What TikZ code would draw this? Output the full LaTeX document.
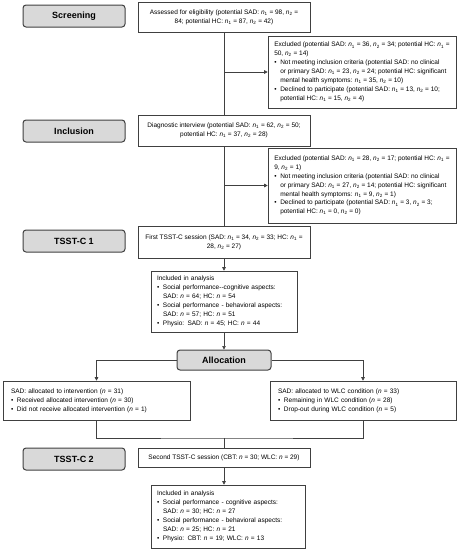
\documentclass[tikz,border=0pt]{standalone}
\usepackage{fontspec}
\setmainfont{Liberation Sans}
\usetikzlibrary{arrows.meta,positioning,calc}
\definecolor{labelgray}{gray}{0.85}
\definecolor{edgegray}{gray}{0.25}
\newcommand{\nsub}[1]{\textit{n}\textsubscript{#1}}
\newcommand{\nit}{\textit{n}}
\newcommand{\bul}{\makebox[6pt][l]{\textbullet}}
\newcommand{\ind}{\hspace*{6pt}}
\tikzstyle{stage} = [draw=edgegray, line width=1pt, fill=labelgray, rounded corners=3pt, minimum width=102pt, minimum height=22pt, inner sep=0pt, font=\fontsize{9}{10}\selectfont\bfseries]
\tikzstyle{info} = [draw=edgegray, line width=0.6pt, inner xsep=5pt, inner ysep=2pt, align=left, font=\fontsize{6.5}{8.9}\selectfont]
\tikzstyle{list} = [info, inner xsep=6pt]
\tikzstyle{line} = [draw=edgegray, line width=0.6pt]
\tikzstyle{arrow} = [line, -{Triangle[length=3.5pt,width=3.5pt]}]

\begin{document}
\begin{tikzpicture}[x=1pt,y=-1pt]
\useasboundingbox (0,0) rectangle (461,550);
% stage labels
\node (screen) [stage] at (74,16) {Screening};
\node (incl) [stage] at (74,131) {Inclusion};
\node (tsst1) [stage] at (74,241) {TSST-C 1};
\node (tsst2) [stage] at (74,459) {TSST-C 2};
% screening
\node (assess) [info, align=center, minimum width=172pt, minimum height=30pt] at (224,17)
  {Assessed for eligibility (potential SAD: \nsub1 = 98, \nsub2 =\\ 84; potential HC: \nsub1 = 87, \nsub2 = 42)};
\node (excl1) [info, minimum width=188pt, minimum height=72pt] at (362,72)
  {Excluded (potential SAD: \nsub1 = 36, \nsub2 = 34; potential HC: \nsub1 =\\
   50, \nsub2 = 14)\\
   \bul Not meeting inclusion criteria (potential SAD: no clinical\\
   \ind or primary SAD: \nsub1 = 23, \nsub2 = 24; potential HC: significant\\
   \ind mental health symptoms: \nsub1 = 35, \nsub2 = 10)\\
   \bul Declined to participate (potential SAD: \nsub1 = 13, \nsub2 = 10;\\
   \ind potential HC: \nsub1 = 15, \nsub2 = 4)};
% inclusion
\node (diag) [info, align=center, minimum width=172pt, minimum height=31pt] at (224,130.5)
  {Diagnostic interview (potential SAD: \nsub1 = 62, \nsub2 = 50;\\ potential HC: \nsub1 = 37, \nsub2 = 28)};
\node (excl2) [info, minimum width=188pt, minimum height=75pt] at (362,185.5)
  {Excluded (potential SAD: \nsub1 = 28, \nsub2 = 17; potential HC: \nsub1 =\\
   9, \nsub2 = 1)\\
   \bul Not meeting inclusion criteria (potential SAD: no clinical\\
   \ind or primary SAD: \nsub1 = 27, \nsub2 = 14; potential HC: significant\\
   \ind mental health symptoms: \nsub1 = 9, \nsub2 = 1)\\
   \bul Declined to participate (potential SAD: \nsub1 = 3, \nsub2 = 3;\\
   \ind potential HC: \nsub1 = 0, \nsub2 = 0)};
% first session
\node (first) [info, align=center, minimum width=172pt, minimum height=32pt] at (224,242)
  {First TSST-C session (SAD: \nsub1 = 34, \nsub2 = 33; HC: \nsub1 =\\ 28, \nsub2 = 27)};
\node (anal1) [list, text width=134pt, minimum height=61pt] at (224,301.5)
  {Included in analysis\\
   \bul Social performance-{}-cognitive aspects:\\
   \ind SAD: \nit{} = 64; HC: \nit{} = 54\\
   \bul Social performance - behavioral aspects:\\
   \ind SAD: \nit{} = 57; HC: \nit{} = 51\\
   \bul Physio: SAD: \nit{} = 45; HC: \nit{} = 44};
% allocation
\node (alloc) [stage, minimum width=94pt, minimum height=20pt] at (224,360) {Allocation};
\node (intv) [list, inner xsep=8pt, text width=171pt, minimum height=39pt] at (96.5,400.5)
  {SAD: allocated to intervention (\nit{} = 31)\\
   \bul Received allocated intervention (\nit{} = 30)\\
   \bul Did not receive allocated intervention (\nit{} = 1)};
\node (wlc) [list, inner xsep=8pt, text width=170pt, minimum height=39pt] at (363,400.5)
  {SAD: allocated to WLC condition (\nit{} = 33)\\
   \bul Remaining in WLC condition (\nit{} = 28)\\
   \bul Drop-out during WLC condition (\nit{} = 5)};
% second session
\node (second) [info, align=center, minimum width=172pt, minimum height=19pt] at (224,457.5)
  {Second TSST-C session (CBT: \nit{} = 30; WLC: \nit{} = 29)};
\node (anal2) [list, text width=142pt, minimum height=63pt] at (228,516.5)
  {Included in analysis\\
   \bul Social performance - cognitive aspects:\\
   \ind SAD: \nit{} = 30; HC: \nit{} = 27\\
   \bul Social performance - behavioral aspects:\\
   \ind SAD: \nit{} = 25; HC: \nit{} = 21\\
   \bul Physio: CBT: \nit{} = 19; WLC: \nit{} = 13};
% connectors
\draw[line] (assess.south) -- (diag.north);
\draw[arrow] (assess.south |- excl1.west) -- (excl1.west);
\draw[line] (diag.south) -- (first.north);
\draw[arrow] (diag.south |- excl2.west) -- (excl2.west);
\draw[arrow] (first.south) -- (anal1.north);
\draw[arrow] (anal1.south) -- (alloc.north);
\draw[arrow] (alloc.west) -| (intv.north);
\draw[arrow] (alloc.east) -| (wlc.north);
\coordinate (join) at (224,438);
\draw[line] (intv.south) |- (join) -| (wlc.south);
\draw[line] (join) -- (second.north);
\draw[arrow] (second.south) -- (second.south |- anal2.north);
\end{tikzpicture}
\end{document}
